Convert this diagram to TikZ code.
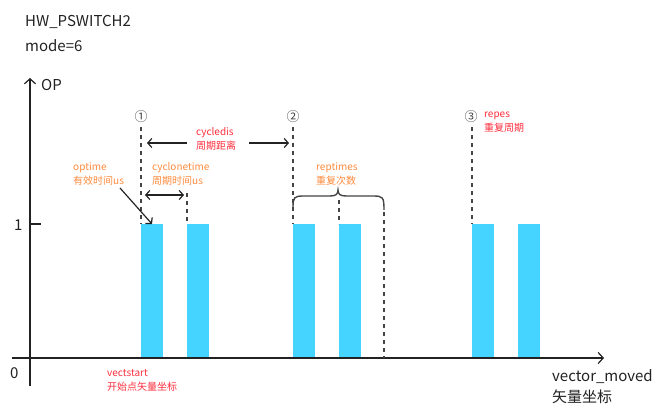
\documentclass[tikz,border=0pt]{standalone}
\usepackage{fontspec}
\setmainfont{Noto Sans CJK SC}
\usetikzlibrary{arrows.meta}
\definecolor{barblue}{HTML}{45D4FF}
\definecolor{lblorange}{HTML}{FF8A3D}
\definecolor{lblred}{HTML}{FF2D3C}
\definecolor{dashgray}{HTML}{444444}
\definecolor{txtblack}{HTML}{222222}
\tikzset{
  axisline/.style={line width=1.2pt, draw=txtblack, -{Straight Barb[length=5pt,width=11pt,line width=1.2pt]}},
  guide/.style={line width=1.4pt, draw=dashgray, dash pattern=on 4pt off 4pt},
  pointer/.style={line width=1.2pt, draw=txtblack, -{Straight Barb[length=4pt,width=9pt,line width=1.2pt]}},
  dpointer/.style={line width=1.2pt, draw=txtblack, {Straight Barb[length=4pt,width=9pt,line width=1.2pt]}-{Straight Barb[length=4pt,width=9pt,line width=1.2pt]}},
  pulse/.style={fill=barblue, draw=none},
  smalllbl/.style={anchor=west, align=left, inner sep=0pt, font=\fontsize{10}{14}\selectfont},
  biglbl/.style={anchor=west, align=left, inner sep=0pt, text=txtblack, font=\fontsize{15}{21}\selectfont},
  marklbl/.style={inner sep=0pt, text=dashgray, font=\fontsize{13}{14}\selectfont},
}
\begin{document}
\begin{tikzpicture}[x=1pt,y=-1pt]
\useasboundingbox (0,0) rectangle (665,412);
% pulses
\fill[pulse] (141,224) rectangle (163,358);
\fill[pulse] (187,224) rectangle (209,358);
\fill[pulse] (293,224) rectangle (315,358);
\fill[pulse] (339,224) rectangle (361,358);
\fill[pulse] (472,224) rectangle (494,358);
\fill[pulse] (518,224) rectangle (540,358);
% axes
\coordinate (ybot) at (30,386);
\coordinate (ytop) at (30,78);
\coordinate (xleft) at (12,358);
\coordinate (xright) at (604,358);
\draw[axisline] (ybot) -- (ytop);
\draw[axisline] (xleft) -- (xright);
\coordinate (tickA) at (30,224);
\coordinate (tickB) at (41,224);
\draw[line width=1.2pt, draw=txtblack] (tickA) -- (tickB);
% titles and axis labels
\node[biglbl] (title) at (25,22) {HW\_PSWITCH2};
\node[biglbl] (mode) at (25,46) {mode=6};
\node[biglbl] (op) at (41,85) {OP};
\node[biglbl] (zero) at (10,373) {0};
\node[biglbl] (one) at (14,225) {1};
\node[biglbl] (vm) at (552,387) {vector\_moved\\矢量坐标};
% markers
\node[marklbl] (m1) at (141,117) {①};
\node[marklbl] (m2) at (293,117) {②};
\node[marklbl] (m3) at (471,117) {③};
% guides
\coordinate (g1a) at (141,127); \coordinate (g1b) at (141,224);
\coordinate (g2a) at (187,193); \coordinate (g2b) at (187,224);
\coordinate (g3a) at (293,127); \coordinate (g3b) at (293,224);
\coordinate (g4a) at (339,200); \coordinate (g4b) at (339,224);
\coordinate (g5a) at (384,212); \coordinate (g5b) at (384,358);
\coordinate (g6a) at (472,127); \coordinate (g6b) at (472,224);
\draw[guide] (g1a) -- (g1b);
\draw[guide] (g2a) -- (g2b);
\draw[guide] (g3a) -- (g3b);
\draw[guide] (g4a) -- (g4b);
\draw[guide] (g5a) -- (g5b);
\draw[guide] (g6a) -- (g6b);
% labels
\node[smalllbl, text=lblred] (cyc) at (196,139) {cycledis\\周期距离};
\node[smalllbl, text=lblorange] (opt) at (73,174) {optime\\有效时间us};
\node[smalllbl, text=lblorange] (clt) at (152,174) {cyclonetime\\周期时间us};
\node[smalllbl, text=lblorange] (rep) at (316,174) {reptimes\\重复次数};
\node[smalllbl, text=lblred] (rps) at (484,122) {repes\\重复周期};
\node[smalllbl, text=lblred] (vst) at (107,380) {vectstart\\开始点矢量坐标};
% cycledis arrows
\coordinate (cl) at (147,143);
\coordinate (cr) at (289,143);
\coordinate (cls) at (187,143);
\coordinate (crs) at (249,143);
\draw[pointer] (cls) -- (cl);
\draw[pointer] (crs) -- (cr);
% cyclonetime
\coordinate (ctl) at (145,195);
\coordinate (ctr) at (184,195);
\draw[dpointer] (ctl) -- (ctr);
% optime pointer
\coordinate (ops) at (120,188);
\coordinate (ope) at (152,224);
\draw[pointer] (ops) -- (ope);
% brace
\coordinate (bl) at (293,208);
\coordinate (br) at (384,210);
\coordinate (btip) at (338,190);
\draw[line width=1.4pt, draw=dashgray]
  (bl) .. controls (293,197) and (294,196) .. (304,196) -- (330,196)
  .. controls (336,196) and (338,194) .. (btip)
  .. controls (338,194) and (340,196) .. (346,196) -- (373,196)
  .. controls (383,196) and (384,197) .. (br);
\end{tikzpicture}
\end{document}
